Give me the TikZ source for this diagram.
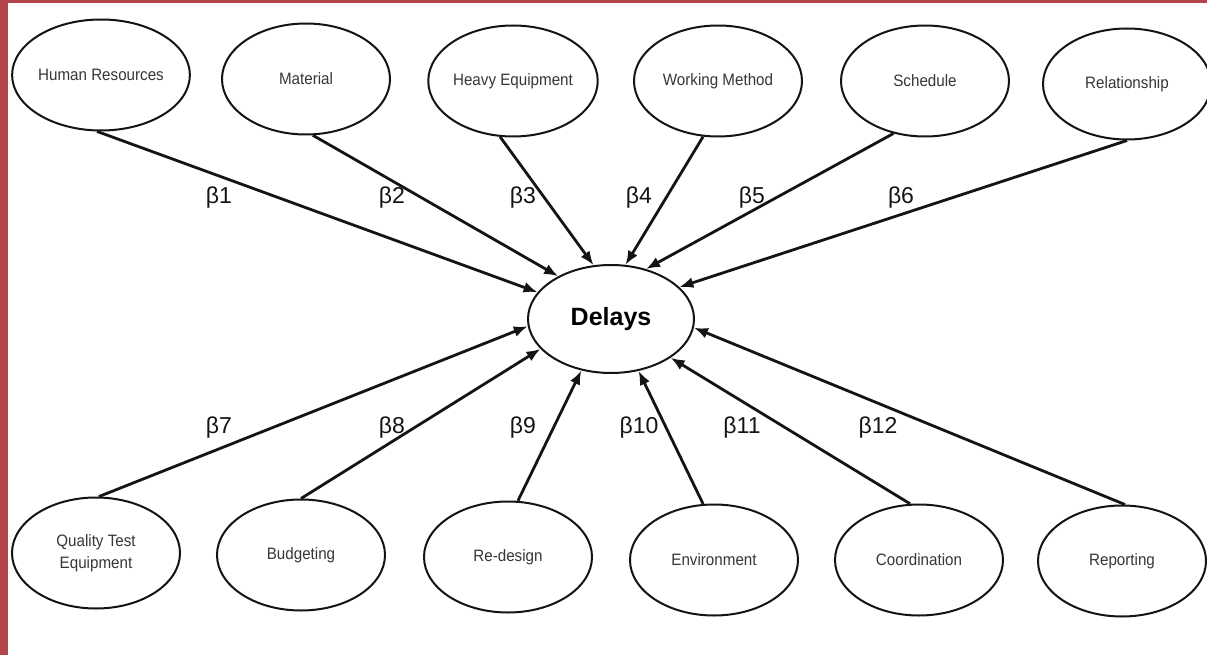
\documentclass[tikz,border=0pt]{standalone}
\usepackage{fontspec}
\setmainfont{Liberation Sans}
\newfontfamily\factorfont[FakeStretch=0.92]{Liberation Sans}
\usetikzlibrary{shapes.geometric,arrows.meta}
\definecolor{frame}{RGB}{180,68,76}
\definecolor{ink}{RGB}{20,20,20}
\definecolor{labelgrey}{RGB}{55,55,55}
\tikzset{
  factor/.style={ellipse, draw=ink, line width=2pt, minimum width=168pt,
    minimum height=111pt, inner sep=0pt, align=center, text=labelgrey,
    font=\factorfont\fontsize{16.5}{22}\selectfont},
  outcome/.style={ellipse, draw=ink, line width=2pt, minimum width=166pt,
    minimum height=108pt, inner sep=0pt, text=black,
    font=\bfseries\fontsize{25}{30}\selectfont},
  path/.style={draw=ink, line width=2.8pt, -{Latex[length=14pt,width=11pt]}},
  coef/.style={text=ink, font=\fontsize{23}{26}\selectfont, inner sep=0pt}
}
\begin{document}
\begin{tikzpicture}[x=1pt,y=-1pt]
\useasboundingbox (0,0) rectangle (1207,655);
\fill[white] (0,0) rectangle (1207,655);
% red frame on the left and top edges
\fill[frame] (0,0) rectangle (8,655);
\fill[frame] (0,0) rectangle (1207,3);

% central construct
\node[outcome] (delays) at (611,319) {Delays};

% upper row of factors
\node[factor] (hr)   at (101,75)  {Human Resources};
\node[factor] (mat)  at (306,79)  {Material};
\node[factor] (heq)  at (513,81)  {Heavy Equipment};
\node[factor] (wm)   at (718,81)  {Working Method};
\node[factor] (sch)  at (925,81)  {Schedule};
\node[factor] (rel)  at (1127,84) {Relationship};

% lower row of factors
\node[factor] (qte)  at (96,553)   {Quality Test\\Equipment};
\node[factor] (bud)  at (301,555)  {Budgeting};
\node[factor] (red)  at (508,557)  {Re-design};
\node[factor] (env)  at (714,560)  {Environment};
\node[factor] (coo)  at (919,560)  {Coordination};
\node[factor] (rep)  at (1122,561) {Reporting};

% paths into Delays
\draw[path] (hr.-94)  -- (delays.160);
\draw[path] (mat.-83) -- (delays.141);
\draw[path] (heq.-103) -- (delays.108);
\draw[path] (wm.-105) -- (delays.75);
\draw[path] (sch.-121) -- (delays.55);
\draw[path] (rel.-90) -- (delays.25);

\draw[path] (qte.87)  -- (delays.-175);
\draw[path] (bud.90)  -- (delays.-157);
\draw[path] (red.80)  -- (delays.-120);
\draw[path] (env.101) -- (delays.-62);
\draw[path] (coo.99)  -- (delays.-33);
\draw[path] (rep.87)  -- (delays.-6);

% path coefficients
\node[coef] (b1)  at (219,198) {β1};
\node[coef] (b2)  at (392,198) {β2};
\node[coef] (b3)  at (523,198) {β3};
\node[coef] (b4)  at (639,198) {β4};
\node[coef] (b5)  at (752,198) {β5};
\node[coef] (b6)  at (901,198) {β6};
\node[coef] (b7)  at (219,428) {β7};
\node[coef] (b8)  at (392,428) {β8};
\node[coef] (b9)  at (523,428) {β9};
\node[coef] (b10) at (639,428) {β10};
\node[coef] (b11) at (742,428) {β11};
\node[coef] (b12) at (878,428) {β12};
\end{tikzpicture}
\end{document}
